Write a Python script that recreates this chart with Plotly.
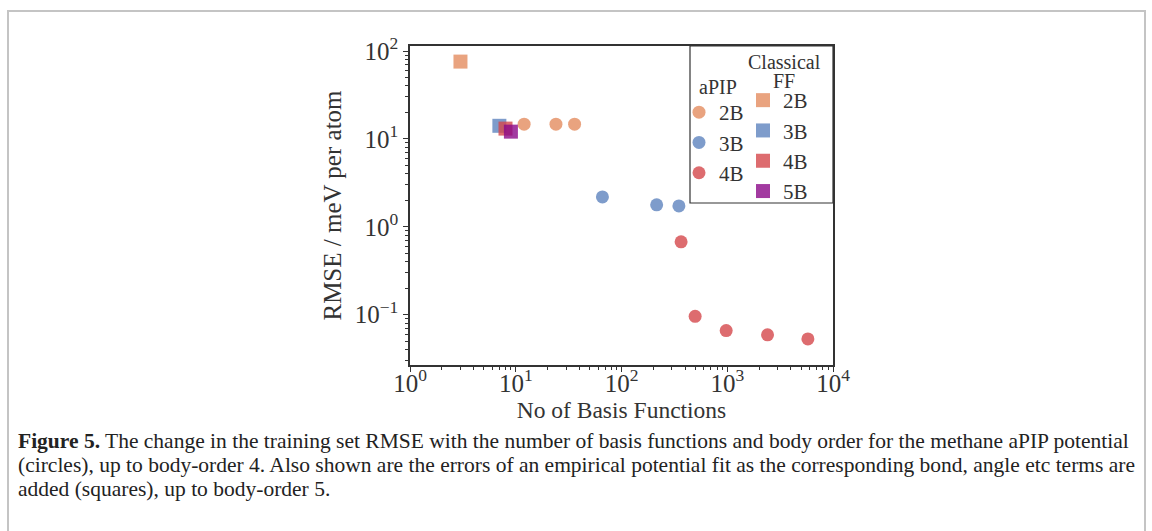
import plotly.graph_objects as go

# ---- data ----
apip_2b_x = [12, 24, 36]
apip_2b_y = [14.7, 14.7, 14.7]
apip_3b_x = [66, 215, 349]
apip_3b_y = [2.19, 1.78, 1.73]
apip_4b_x = [366, 497, 977, 2404, 5790]
apip_4b_y = [0.675, 0.096, 0.066, 0.059, 0.053]

ff_x = [3, 7, 8, 9]
ff_y = [75.8, 14.1, 13.1, 12.1]
ff_labels = ["2B", "3B", "4B", "5B"]
apip_labels = ["2B", "3B", "4B"]

x_tickvals = [1, 10, 100, 1000, 10000]
x_ticktext = ["10<sup>0</sup>", "10<sup>1</sup>", "10<sup>2</sup>", "10<sup>3</sup>", "10<sup>4</sup>"]
y_tickvals = [0.1, 1, 10, 100]
y_ticktext = ["10<sup>−1</sup>", "10<sup>0</sup>", "10<sup>1</sup>", "10<sup>2</sup>"]

colors = {
    "2B": "rgb(228,140,95)",
    "3B": "rgb(94,131,190)",
    "4B": "rgb(213,71,75)",
    "5B": "rgb(139,9,136)",
}

FONT = "Liberation Serif"
W, H = 1152, 531
L, R, T, B = 410, 833, 46, 365  # plot area in pixels


def px_x(p):
    return (p - L) / (R - L)


def px_y(p):
    return (B - p) / (B - T)


def minor_vals(lo_exp, hi_exp):
    return [m * 10 ** e for e in range(lo_exp, hi_exp) for m in range(2, 10)]


fig = go.Figure()

apip_sets = [(apip_2b_x, apip_2b_y), (apip_3b_x, apip_3b_y), (apip_4b_x, apip_4b_y)]
for lab, (xs, ys) in zip(apip_labels, apip_sets):
    fig.add_trace(go.Scatter(
        x=xs, y=ys, mode="markers", name=lab, legend="legend",
        marker=dict(symbol="circle", size=13, color=colors[lab], opacity=0.8, line=dict(width=0)),
    ))

for lab, xv, yv in zip(ff_labels, ff_x, ff_y):
    fig.add_trace(go.Scatter(
        x=[xv], y=[yv], mode="markers", name=lab, legend="legend2",
        marker=dict(symbol="square", size=14, color=colors[lab], opacity=0.8, line=dict(width=0)),
    ))

axis_common = dict(
    type="log", showgrid=False, zeroline=False, showline=True, mirror=True,
    linecolor="#333333", linewidth=1.5, ticks="outside", ticklen=5, tickwidth=1.2,
    tickcolor="#333333", tickfont=dict(family=FONT, size=25, color="#333333"),
)

fig.update_xaxes(
    **axis_common, range=[0, 4], tickvals=x_tickvals, ticktext=x_ticktext,
    minor=dict(tickvals=minor_vals(0, 4), ticks="outside", ticklen=3, tickwidth=1,
               tickcolor="#333333", showgrid=False),
    ticklabelstandoff=-10,
    title=dict(text="No of Basis Functions", font=dict(family=FONT, size=23.5, color="#333333"), standoff=0),
)
fig.update_yaxes(
    **axis_common, range=[-1.572, 2.057], tickvals=y_tickvals, ticktext=y_ticktext,
    minor=dict(tickvals=minor_vals(-2, 2), ticks="outside", ticklen=3, tickwidth=1,
               tickcolor="#333333", showgrid=False),
    title=dict(text="RMSE / meV per atom", font=dict(family=FONT, size=25, color="#333333"), standoff=6),
)

legend_font = dict(family=FONT, size=21, color="#333333")
fig.update_layout(
    width=W, height=H,
    margin=dict(l=L, r=W - R, t=T, b=H - B, pad=0),
    paper_bgcolor="white", plot_bgcolor="white",
    showlegend=True,
    legend=dict(
        font=legend_font, x=px_x(679), y=px_y(92), xanchor="left", yanchor="top",
        bgcolor="rgba(0,0,0,0)", borderwidth=0, itemwidth=30, tracegroupgap=0,
    ),
    legend2=dict(
        font=legend_font, x=px_x(743), y=px_y(80), xanchor="left", yanchor="top",
        bgcolor="rgba(0,0,0,0)", borderwidth=0, itemwidth=30, tracegroupgap=0,
    ),
)

# legend titles
legend_titles = [("aPIP", 718, 87), ("Classical", 784, 62), ("FF", 784, 81)]
for txt, xp, yp in legend_titles:
    fig.add_annotation(text=txt, xref="paper", yref="paper", x=px_x(xp), y=px_y(yp),
                       xanchor="center", yanchor="middle", showarrow=False,
                       font=dict(family=FONT, size=20, color="#333333"))

# legend box
fig.add_shape(type="rect", xref="paper", yref="paper",
              x0=px_x(690), x1=1, y0=px_y(203), y1=1,
              line=dict(color="#333333", width=1.2), fillcolor="rgba(0,0,0,0)", layer="above")

# outer frame
fig.add_shape(type="rect", xref="paper", yref="paper",
              x0=px_x(8), x1=px_x(1145), y0=px_y(560), y1=px_y(11),
              line=dict(color="#c4c4c4", width=2), fillcolor="rgba(0,0,0,0)", layer="below")

caption_lines = [
    "<b>Figure 5.</b> The change in the training set RMSE with the number of basis functions and body order for the methane aPIP potential",
    "(circles), up to body-order 4. Also shown are the errors of an empirical potential fit as the corresponding bond, angle etc terms are",
    "added (squares), up to body-order 5.",
]
for i, line in enumerate(caption_lines):
    fig.add_annotation(
        text=line, xref="paper", yref="paper", x=px_x(16), y=px_y(441 + 24 * i),
        xanchor="left", yanchor="middle", showarrow=False,
        font=dict(family=FONT, size=21.5, color="#222222"),
    )

fig.write_html("out.html")
